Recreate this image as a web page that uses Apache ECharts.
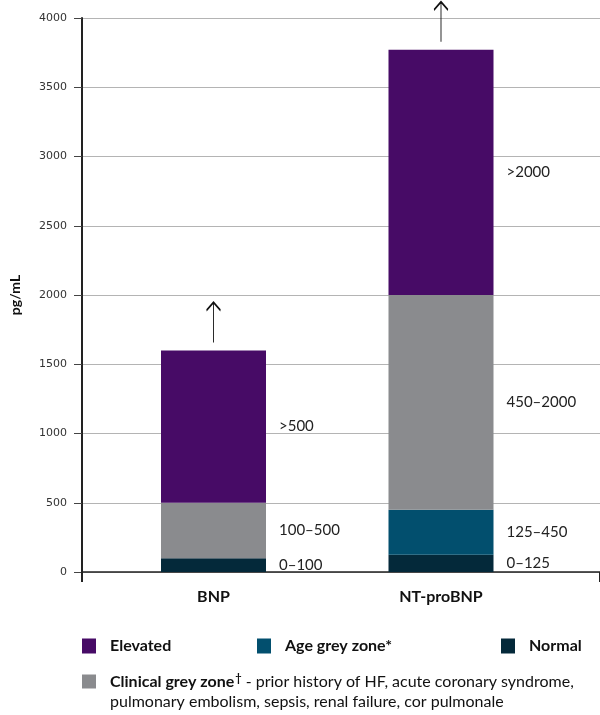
<!DOCTYPE html>
<html>
<head>
<meta charset="utf-8">
<script src="https://cdn.jsdelivr.net/npm/echarts@6/dist/echarts.min.js"></script>
<style>
html,body{margin:0;padding:0;background:#fff;}
#chart{width:600px;height:715px;}
</style>
</head>
<body>
<div id="chart"></div>
<script>
// ---- data ----
const categories = ['BNP', 'NT-proBNP'];
// upper bound of each zone (pg/mL)
const normalTop = [100, 125];
const ageTop = [null, 450];          // no age grey zone for BNP
const clinicalTop = [500, 2000];
const elevatedTop = [1600, 3770];     // drawn bar tops (open-ended, arrow)
// range labels
const normalLabels = ['0\u2013100', '0\u2013125'];
const ageLabels = ['', '125\u2013450'];
const clinicalLabels = ['100\u2013500', '450\u20132000'];
const elevatedLabels = ['>500', '>2000'];
// y axis ticks
const yMin = 0, yMax = 4000, yStep = 500;

const colors = {
  'Elevated': '#470b66',
  'Age grey zone*': '#024f6e',
  'Normal': '#04293a',
  'Clinical grey zone\u2020': '#8a8b8e'
};

// segment heights from zone bounds
const normalSeg = normalTop.slice();
const ageSeg = ageTop.map((v, i) => v == null ? '-' : v - normalTop[i]);
const clinicalSeg = clinicalTop.map((v, i) => v - (ageTop[i] == null ? normalTop[i] : ageTop[i]));
const elevatedSeg = elevatedTop.map((v, i) => v - clinicalTop[i]);

const FONT = 'Lato, "Open Sans", sans-serif';

function barSeries(name, data, labels, extra) {
  return Object.assign({
    name: name,
    type: 'bar',
    stack: 'total',
    xAxisIndex: 0,
    yAxisIndex: 0,
    barWidth: 105,
    data: data,
    itemStyle: { color: colors[name] },
    emphasis: { disabled: true },
    label: {
      show: true,
      position: 'right',
      distance: 13,
      color: '#222',
      fontFamily: FONT,
      fontSize: 15,
      formatter: p => labels[p.dataIndex] || ''
    }
  }, extra || {});
}

const chart = echarts.init(document.getElementById('chart'), null, { renderer: 'canvas' });

const legendBase = {
  orient: 'horizontal',
  padding: 0,
  itemWidth: 14,
  itemHeight: 15,
  icon: 'rect',
  selectedMode: false,
  textStyle: {
    fontFamily: FONT,
    fontSize: 16,
    fontWeight: 'bold',
    color: '#111',
    padding: [0, 0, 0, 9]
  }
};

chart.setOption({
  animation: false,
  backgroundColor: '#fff',
  grid: [
    { left: 99.75, width: 455, top: 18, bottom: 143, containLabel: false },
    { left: 82, right: 0, top: 18, bottom: 143, containLabel: false }
  ],
  xAxis: [
    {
      type: 'category',
      gridIndex: 0,
      data: categories,
      axisLine: { show: false },
      axisTick: { show: false },
      axisLabel: {
        margin: 17,
        color: '#111',
        fontFamily: FONT,
        fontSize: 16,
        fontWeight: 'bold'
      }
    },
    {
      type: 'value',
      gridIndex: 1,
      min: 0, max: 1, interval: 1,
      axisLine: { show: true, lineStyle: { color: '#222', width: 1.5 } },
      axisTick: { show: true, length: 10, lineStyle: { color: '#222', width: 2 } },
      axisLabel: { show: false },
      splitLine: { show: false }
    }
  ],
  yAxis: [
    {
      type: 'value',
      gridIndex: 0,
      min: yMin, max: yMax, interval: yStep,
      show: false,
      splitLine: { show: false }
    },
    {
      type: 'value',
      gridIndex: 1,
      min: yMin, max: yMax, interval: yStep,
      name: 'pg/mL',
      nameLocation: 'middle',
      nameGap: 60,
      nameRotate: 90,
      nameTextStyle: { fontFamily: FONT, fontSize: 14, fontWeight: 'bold', color: '#111' },
      axisLine: { show: true, lineStyle: { color: '#222', width: 2 } },
      axisTick: { show: true, length: 8, lineStyle: { color: '#444', width: 1 } },
      axisLabel: {
        margin: 15, color: '#333', fontFamily: '"DejaVu Sans", sans-serif', fontSize: 11,
        formatter: v => String(v)
      },
      splitLine: { show: true, lineStyle: { color: '#b4b4b4', width: 1 } }
    }
  ],
  legend: [
    Object.assign({}, legendBase, { data: ['Elevated'], left: 82, top: 638 }),
    Object.assign({}, legendBase, { data: ['Age grey zone*'], left: 257, top: 638 }),
    Object.assign({}, legendBase, { data: ['Normal'], left: 501, top: 638 }),
    Object.assign({}, legendBase, {
      data: ['Clinical grey zone\u2020'], left: 82, top: 673, itemHeight: 14,
      formatter: n => '{b|Clinical grey zone}{s|\u2020}{n| - prior history of HF, acute coronary syndrome,}',
      textStyle: Object.assign({}, legendBase.textStyle, {
        rich: {
          b: { fontFamily: FONT, fontSize: 16, fontWeight: 'bold', color: '#111' },
          s: { fontFamily: FONT, fontSize: 11, color: '#111', verticalAlign: 'top', padding: [0, 0, 6, 1] },
          n: { fontFamily: FONT, fontSize: 16, fontWeight: 'normal', color: '#111' }
        }
      })
    })
  ],
  title: {
    text: 'pulmonary embolism, sepsis, renal failure, cor pulmonale',
    left: 110, top: 694, padding: 0,
    textStyle: { fontFamily: FONT, fontSize: 16, fontWeight: 'normal', color: '#111' }
  },
  series: [
    barSeries('Normal', normalSeg, normalLabels),
    barSeries('Age grey zone*', ageSeg, ageLabels),
    barSeries('Clinical grey zone\u2020', clinicalSeg, clinicalLabels),
    barSeries('Elevated', elevatedSeg, elevatedLabels, {
      markPoint: {
        symbol: 'path://M7 40 L7 0 M0 8 L7 0 L14 8',
        symbolSize: [14, 40],
        symbolOffset: [0, -28],
        symbolKeepAspect: false,
        itemStyle: { color: 'rgba(0,0,0,0)', borderColor: '#111', borderWidth: 1.5 },
        label: { show: false },
        emphasis: { disabled: true },
        data: categories.map((c, i) => ({ coord: [c, elevatedTop[i]] }))
      }
    })
  ]
});
</script>
</body>
</html>
